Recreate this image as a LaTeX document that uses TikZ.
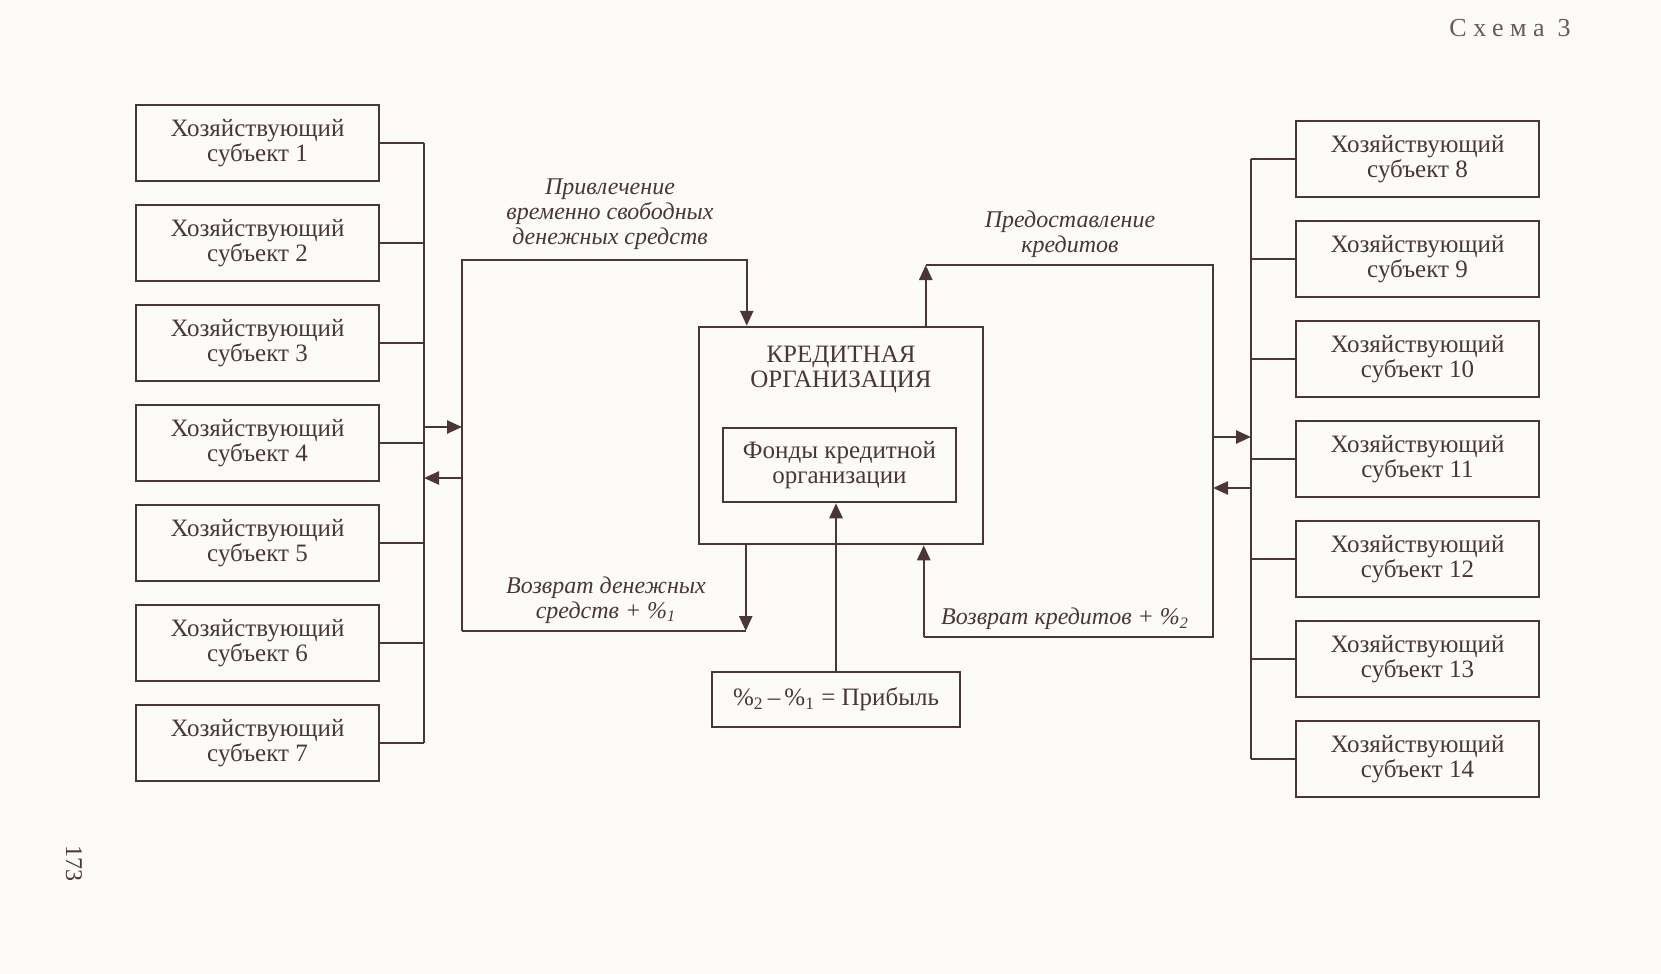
\documentclass[tikz,border=0pt]{standalone}
\usepackage{fontspec}
\setmainfont{Liberation Serif}
\usetikzlibrary{arrows.meta,calc}
\definecolor{ink}{HTML}{4A3636}
\definecolor{paper}{HTML}{FDFBF8}
\definecolor{head}{HTML}{6A5858}
\begin{document}
\begin{tikzpicture}[x=0.5pt,y=-0.5pt,line width=1.25pt,
  subj/.style={draw=ink,line width=1.25pt,minimum width=121.5pt,minimum height=38pt,align=center,
    font=\fontsize{12.5}{12.6}\selectfont,text=ink,inner sep=0pt},
  lab/.style={align=center,font=\fontsize{12}{12.5}\selectfont\itshape,text=ink,inner sep=0pt},
  plain/.style={align=center,font=\fontsize{12.5}{12.6}\selectfont,text=ink,inner sep=0pt},
  arr/.style={-{Triangle[length=7.5pt,width=6.5pt]}},
  line/.style={draw=ink,line width=1.25pt}]
\fill[paper] (0,0) rectangle (1661,974);
\useasboundingbox (0,0) rectangle (1661,974);

% left subjects
\foreach \i/\y in {1/143,2/243,3/343,4/443,5/543,6/643,7/743}
  \node[subj] (s\i) at (257.5,\y) {Хозяйствующий\\субъект \i};
% right subjects
\foreach \i/\y in {8/159,9/259,10/359,11/459,12/559,13/659,14/759}
  \node[subj] (s\i) at (1417.5,\y) {Хозяйствующий\\субъект \i};

% buses
\coordinate (lbus) at (424,143);
\coordinate (rbus) at (1251,159);
\foreach \i in {1,...,7} \draw[line] (s\i.east) -- (s\i.east -| lbus);
\draw[line] (s1.east -| lbus) -- (s7.east -| lbus);
\foreach \i in {8,...,14} \draw[line] (s\i.west) -- (s\i.west -| rbus);
\draw[line] (s8.west -| rbus) -- (s14.west -| rbus);

% credit organisation
\node[draw=ink,line width=1.25pt,minimum width=142pt,minimum height=108.5pt,inner sep=0pt] (ko) at (841,435.5) {};
\node[plain] (kot) at (841,369.5) {КРЕДИТНАЯ\\ОРГАНИЗАЦИЯ};
\node[subj,minimum width=116.5pt,minimum height=37pt] (fo) at (839.5,465) {Фонды кредитной\\организации};
\node[subj,minimum width=124pt,minimum height=27.5pt] (pr) at (836,699.5) {\%\textsubscript{2}\,–\,\%\textsubscript{1} = Прибыль};
\draw[line,arr] (pr.north) -- (pr.north |- fo.south);

% left loop
\coordinate (lt) at (462,260);
\coordinate (lb) at (462,631);
\draw[line,arr] (lb) -- (lt) -| ([xshift=24.5pt]ko.north west);
\coordinate (kout) at ([xshift=24pt]ko.south west);
\draw[line,arr] (kout) -- (kout |- lb);
\draw[line] (kout |- lb) -- (lb);
\coordinate (la1) at (424,427);
\coordinate (la2) at (462,478);
\draw[line,arr] (la1) -- (la1 -| lt);
\draw[line,arr] (la2) -- (la2 -| lbus);

% right loop
\coordinate (rt) at (1213,265);
\coordinate (rb) at (1213,637);
\coordinate (kup) at ([xshift=114pt]ko.north west);
\coordinate (kin) at ([xshift=113pt]ko.south west);
\draw[line,arr] (kup) -- (kup |- rt);
\draw[line] (kup |- rt) -- (rt) -- (rb) -- (rb -| kin);
\draw[line,arr] (rb -| kin) -- (kin);
\coordinate (ra1) at (1213,437);
\coordinate (ra2) at (1251,488);
\draw[line,arr] (ra1) -- (ra1 -| rbus);
\draw[line,arr] (ra2) -- (ra2 -| rt);

% labels
\node[lab] (l1) at (610,214) {Привлечение\\временно свободных\\денежных средств};
\node[lab] (l2) at (1070,234) {Предоставление\\кредитов};
\node[lab] (l3) at (606,600) {Возврат денежных\\средств + \%\textsubscript{1}};
\node[lab] (l4) at (1065,619) {Возврат кредитов + \%\textsubscript{2}};

% page furniture
\node[text=head,font=\fontsize{13}{13}\selectfont\addfontfeatures{LetterSpace=25}] (hd) at (1510,28) {Схема 3};
\node[text=ink,font=\fontsize{12}{12}\selectfont,rotate=-90] (pg) at (74,863) {173};
\end{tikzpicture}
\end{document}
